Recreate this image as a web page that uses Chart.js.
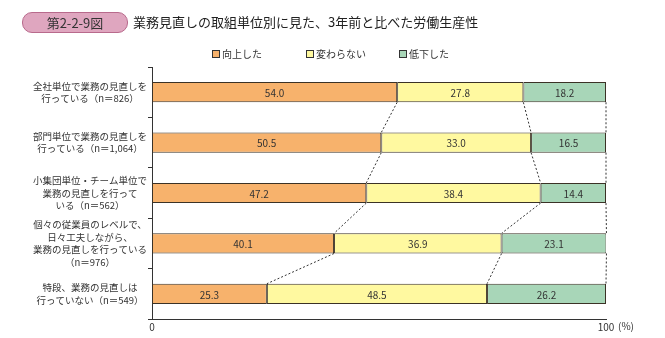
<!DOCTYPE html>
<html>
<head>
<meta charset="utf-8">
<script src="https://cdn.jsdelivr.net/npm/chart.js@4.4.0/dist/chart.umd.min.js"></script>
<style>
	body { margin: 0; background: #fff; }
	#wrap { position: relative; width: 665px; height: 338px; font-family: "Noto Sans CJK JP", sans-serif; color: #333; }
	#chart { position: absolute; left: 0; top: 0; }
	.badge { position: absolute; left: 22px; top: 12px; width: 104px; height: 19px; background: #dfa6bf; border: 1px solid #b86a8c; border-radius: 10px; font-size: 13px; line-height: 19px; text-align: center; }
	.title { position: absolute; left: 133px; top: 12px; font-size: 13px; line-height: 20px; color: #222; }
	.legend { position: absolute; top: 47px; font-size: 10px; line-height: 14px; }
	.legend span { display: inline-block; width: 6px; height: 6px; border: 1px solid #333; margin-right: 2px; vertical-align: 0px; }
	.pct { position: absolute; left: 618px; top: 319px; font-size: 10px; line-height: 14px; }
</style>
</head>
<body>
<div id="wrap">
	<canvas id="chart" width="665" height="338"></canvas>
	<div class="badge">第2-2-9図</div>
	<div class="title">業務見直しの取組単位別に見た、3年前と比べた労働生産性</div>
	<div class="legend" style="left:212px"><span style="background:#f7b26c"></span>向上した</div>
	<div class="legend" style="left:306px"><span style="background:#fff9a0"></span>変わらない</div>
	<div class="legend" style="left:399px"><span style="background:#a8d6b8"></span>低下した</div>
	<div class="pct">(%)</div>
</div>
<script>

	/* data */

	var categories = [
		['全社単位で業務の見直しを', '行っている（n＝826）'],
		['部門単位で業務の見直しを', '行っている（n＝1,064）'],
		['小集団単位・チーム単位で', '業務の見直しを行って', 'いる（n＝562）'],
		['個々の従業員のレベルで、', '日々工夫しながら、', '業務の見直しを行っている', '（n＝976）'],
		['特段、業務の見直しは', '行っていない（n＝549）']
	];

	var seriesNames = ['向上した', '変わらない', '低下した'];
	var improved = [54.0, 50.5, 47.2, 40.1, 25.3];
	var unchanged = [27.8, 33.0, 38.4, 36.9, 48.5];
	var declined = [18.2, 16.5, 14.4, 23.1, 26.2];
	var xTicks = [0, 100];

	var series = [improved, unchanged, declined];
	var colors = ['#f7b26c', '#fff9a0', '#a8d6b8'];

	var fontFamily = '"Noto Sans CJK JP", sans-serif';


	/* value labels and dotted connectors */

	var barExtras = {
		id: 'barExtras',
		afterDatasetsDraw: function(chart) {
			var ctx = chart.ctx;
			var metas = [];
			for (var i = 0; i < series.length; i++) {
				metas.push(chart.getDatasetMeta(i));
			}

			ctx.save();
			ctx.setLineDash([2, 2]);
			ctx.strokeStyle = '#333';
			ctx.lineWidth = 1;
			for (var r = 0; r < categories.length - 1; r++) {
				for (var s = 0; s < series.length; s++) {
					var a = metas[s].data[r];
					var b = metas[s].data[r + 1];
					ctx.beginPath();
					ctx.moveTo(a.x, a.y + a.height / 2);
					ctx.lineTo(b.x, b.y - b.height / 2);
					ctx.stroke();
				}
			}
			ctx.setLineDash([]);

			ctx.fillStyle = '#333';
			ctx.font = '10px ' + fontFamily;
			ctx.textAlign = 'center';
			ctx.textBaseline = 'middle';
			for (var s2 = 0; s2 < series.length; s2++) {
				metas[s2].data.forEach(function(bar, idx) {
					ctx.fillText(series[s2][idx].toFixed(1), (bar.x + bar.base) / 2, bar.y + 1);
				});
			}
			ctx.restore();
		}
	};


	/* chart */

	var datasets = [];
	for (var d = 0; d < series.length; d++) {
		datasets.push({
			label: seriesNames[d],
			data: series[d],
			backgroundColor: colors[d],
			borderColor: '#3b3226',
			borderWidth: 1,
			borderSkipped: false,
			barPercentage: 0.8,
			categoryPercentage: 0.5
		});
	}

	var chart = new Chart(document.getElementById('chart'), {
		type: 'bar',
		data: {
			labels: categories,
			datasets: datasets
		},
		plugins: [barExtras],
		options: {
			indexAxis: 'y',
			responsive: false,
			animation: false,
			layout: {
				padding: { left: 0, right: 59, top: 67, bottom: 0 }
			},
			plugins: {
				legend: { display: false },
				tooltip: { enabled: false }
			},
			scales: {
				x: {
					stacked: true,
					min: 0,
					max: 100,
					afterBuildTicks: function(scale) {
						scale.ticks = xTicks.map(function(v) { return { value: v }; });
					},
					afterFit: function(scale) {
						scale.height = 19;
					},
					grid: { display: false, drawTicks: false },
					border: { display: true, color: '#333' },
					ticks: {
						color: '#333',
						padding: 2,
						font: { family: fontFamily, size: 10 }
					}
				},
				y: {
					stacked: true,
					afterFit: function(scale) {
						scale.width = 152;
					},
					grid: {
						drawOnChartArea: false,
						tickLength: 4,
						color: '#333'
					},
					border: { display: true, color: '#333' },
					ticks: {
						color: '#333',
						padding: 1,
						autoSkip: false,
						crossAlign: 'center',
						font: { family: fontFamily, size: 9.5, lineHeight: 1.3 }
					}
				}
			}
		}
	});

</script>
</body>
</html>
